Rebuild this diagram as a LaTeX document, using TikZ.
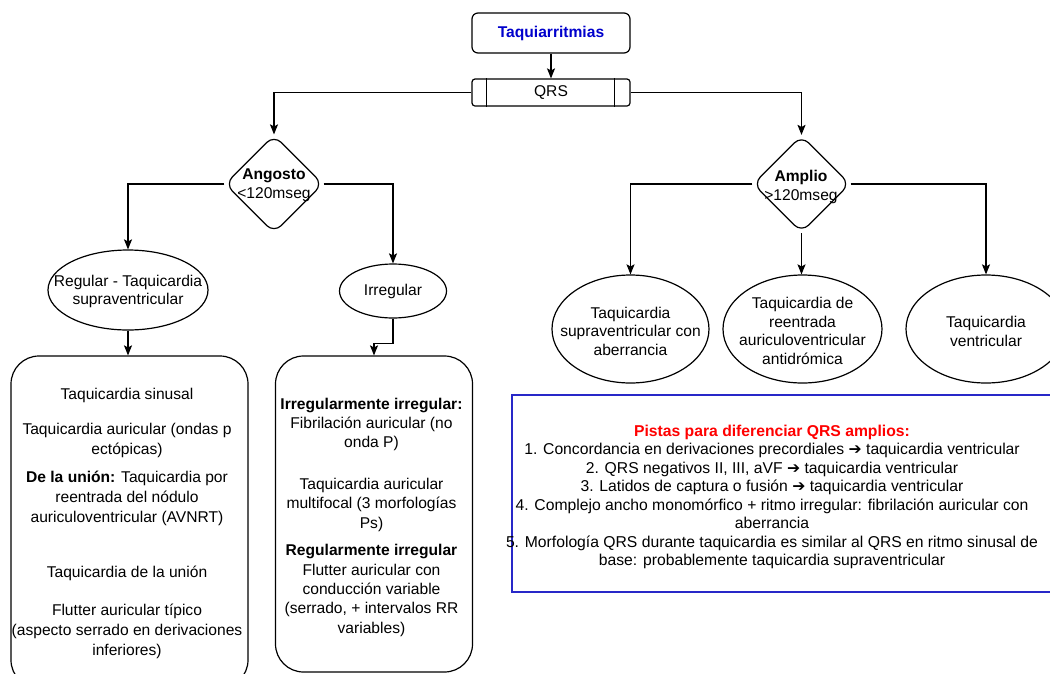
\documentclass[tikz,border=0pt]{standalone}
\usepackage{fontspec}
\setmainfont{Liberation Sans}
\newfontfamily\dvs{DejaVu Sans}
\usetikzlibrary{shapes.geometric,arrows.meta}
\definecolor{titleblue}{RGB}{0,0,204}
\definecolor{boxblue}{RGB}{40,40,200}
\definecolor{redt}{RGB}{255,0,0}
\begin{document}
\begin{tikzpicture}[x=1pt,y=-1pt,line width=1.2pt,
  txt/.style={align=center,inner sep=0pt,font=\fontsize{15.6}{19.2}\selectfont},
  ltxt/.style={align=center,inner sep=0pt,font=\fontsize{15.6}{20}\selectfont},
  etxt/.style={align=center,inner sep=0pt,font=\fontsize{15.6}{18.5}\selectfont},
  shp/.style={draw,line width=1.2pt},
  dia/.style={shp,diamond,rounded corners=10pt,minimum width=98pt,minimum height=98pt,inner sep=0pt},
  ell/.style={shp,ellipse,inner sep=0pt},
  bigbox/.style={shp,rounded corners=28pt,inner sep=0pt},
  arr/.style={-{Stealth[length=10pt,width=8pt,inset=2pt]},line width=1.2pt}]
\useasboundingbox (0,0) rectangle (1050,673);
\clip (0,0) rectangle (1050,673);

% top
\node[shp,rounded corners=6pt,minimum width=158pt,minimum height=40pt,inner sep=0pt] (top) at (551,33) {};
\node[txt,text=titleblue,font=\fontsize{15.6}{19.2}\selectfont\bfseries] (topt) at (top) {Taquiarritmias};
\node[shp,rounded corners=3pt,minimum width=158pt,minimum height=27pt,inner sep=0pt] (qrs) at (551,92.5) {};
\node[txt] (qrst) at (qrs) {QRS};
\draw ([xshift=15pt]qrs.north west) -- ([xshift=15pt]qrs.south west);
\draw ([xshift=-16pt]qrs.north east) -- ([xshift=-16pt]qrs.south east);

% diamonds
\node[dia] (ang) at (274,184) {};
\node[txt] (angt) at (274,185) {\textbf{Angosto}\\<120mseg};
\node[dia,minimum width=97pt,minimum height=97pt] (amp) at (801.5,184) {};
\node[txt] (ampt) at (801,187) {\textbf{Amplio}\\>120mseg};

% left branch
\node[ell,minimum width=160pt,minimum height=80pt] (reg) at (128,290) {};
\node[etxt] (regt) at (128,291.5) {Regular - Taquicardia\\supraventricular};
\node[ell,minimum width=107pt,minimum height=54pt] (irr) at (393,291) {};
\node[etxt] (irrt) at (393,291.5) {Irregular};

\node[bigbox,minimum width=237pt,minimum height=332pt] (lbox) at (129.5,522) {};
\node[ltxt] (lboxt) at (127,523) {Taquicardia sinusal\\[15pt]
Taquicardia auricular (ondas p\\
ectópicas)\\[8pt]
\textbf{De la unión:} Taquicardia por\\
reentrada del nódulo\\
auriculoventricular (AVNRT)\\[35pt]
Taquicardia de la unión\\[18pt]
Flutter auricular típico\\
(aspecto serrado en derivaciones\\
inferiores)};

\node[bigbox,minimum width=197pt,minimum height=316pt] (mbox) at (374,514) {};
\node[txt,font=\fontsize{15.6}{19.3}\selectfont] (mboxt) at (371.5,517) {\textbf{Irregularmente irregular:}\\
Fibrilación auricular (no\\
onda P)\\[22.5pt]
Taquicardia auricular\\
multifocal (3 morfologías\\
Ps)\\[8.5pt]
\textbf{Regularmente irregular}\\
Flutter auricular con\\
conducción variable\\
(serrado, + intervalos RR\\
variables)};

% right branch
\node[ell,minimum width=157pt,minimum height=108pt] (e1) at (630.5,329) {};
\node[etxt] (e1t) at (630.5,331) {Taquicardia\\supraventricular con\\aberrancia};
\node[ell,minimum width=159pt,minimum height=108pt] (e2) at (802.5,329) {};
\node[etxt] (e2t) at (802.5,331) {Taquicardia de\\reentrada\\auriculoventricular\\antidrómica};
\node[ell,minimum width=160pt,minimum height=108pt] (e3) at (986,329) {};
\node[etxt] (e3t) at (986,331.5) {Taquicardia\\ventricular};

% blue box
\node[draw=boxblue,line width=1.2pt,minimum width=548pt,minimum height=197pt,inner sep=0pt] (blue) at (786,493.5) {};
\node[txt,font=\fontsize{15.7}{18.5}\selectfont] (bluet) at (772,497) {\textcolor{redt}{\textbf{Pistas para diferenciar QRS amplios:}}\\
1. Concordancia en derivaciones precordiales {\dvs ➔} taquicardia ventricular\\
2. QRS negativos II, III, aVF {\dvs ➔} taquicardia ventricular\\
3. Latidos de captura o fusión {\dvs ➔} taquicardia ventricular\\
4. Complejo ancho monomórfico + ritmo irregular: fibrilación auricular con\\
aberrancia\\
5. Morfología QRS durante taquicardia es similar al QRS en ritmo sinusal de\\
base: probablemente taquicardia supraventricular};

% connectors
\draw[arr] (top) -- (qrs);
\draw[arr] (qrs.west) -| (ang.north);
\draw[arr] (qrs.east) -| (amp.north);
\draw[arr] (ang.west) -| (reg.north);
\draw[arr] (ang.east) -| (irr.north);
\draw[arr] (reg.south) -- (reg.south |- lbox.north);
\draw[arr] (irr.south) -- ++(0,25) -| (mbox.north);
\draw[arr] (amp.west) -| (e1.north);
\draw[arr] (amp.south) -- (amp.south |- e2.north);
\draw[arr] (amp.east) -| (e3.north);
\end{tikzpicture}
\end{document}
